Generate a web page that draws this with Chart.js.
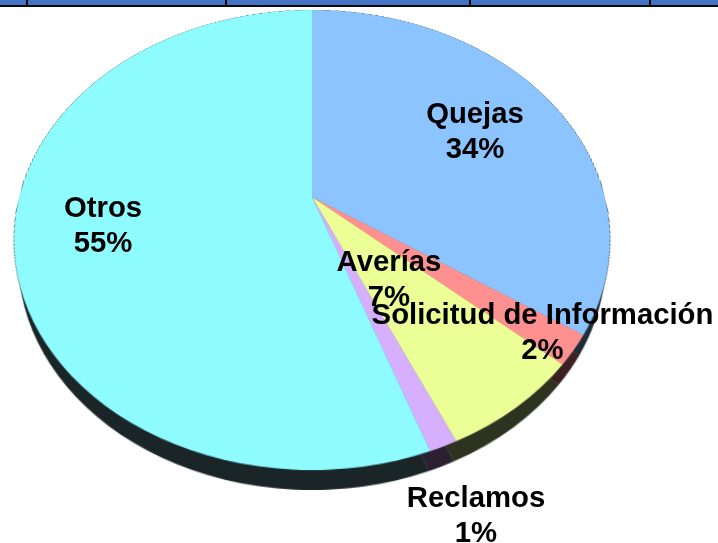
<!DOCTYPE html>
<html>
<head>
  <style>
    html, body { margin: 0; padding: 0; background: #fff; }
    #page { position: relative; width: 718px; height: 543px; overflow: hidden; }
    #page canvas { position: absolute !important; left: 0; top: 0; transform-origin: 0 0; }
    #topChart { filter: drop-shadow(0 0 0.7px #10151c) drop-shadow(0 0 0.4px #10151c); }
    .band { position: absolute; left: 0; top: 0; width: 718px; height: 5px; background: #4472c4; }
    .rule { position: absolute; left: 0; top: 5px; width: 718px; height: 2px; background: #0a0a0a; }
    .tick { position: absolute; top: 0; width: 2px; height: 6px; background: #0a0a0a; }
    .label {
        position: absolute;
        transform: translate(-50%, 0);
        text-align: center;
        white-space: nowrap;
        font: bold 29.3px/35px "Liberation Sans", Arial, sans-serif;
        color: #000;
    }
  </style>
</head>
<body>
  <div id="page">
    <div class="band"></div>
    <div class="rule"></div>
    <canvas id="rimChart" width="600" height="600"></canvas>
    <canvas id="topChart" width="600" height="600"></canvas>
  </div>

  <script src="https://cdn.jsdelivr.net/npm/chart.js"></script>
  <script type="text/javascript">
    const categories = ["Quejas", "Solicitud de Información", "Averías", "Reclamos", "Otros"];
    const shares = [34.4, 2.1, 6.8, 1.3, 55.4];

    const topColors = ["#8cc4ff", "#ff9090", "#ebff96", "#d6b0ff", "#8efcff"];
    const rimColors = ["#1f2c3c", "#3a2022", "#2e3320", "#2a2030", "#1a2528"];

    // where each label block sits on the page (centre x, top y)
    const labelSpots = [[475, 95], [542.5, 296], [389, 243], [476, 479], [103, 189]];
    const headerTicks = [27, 226, 470, 650];

    // circle -> tilted ellipse, the apex of the slices is off centre like the original
    const apexX = 312, apexY = 197;
    const k = -0.187, a = 222, half = 300;
    const topWidth = 292.8, rimWidth = 288.5;
    const rimDrop = 20;

    function tiltMatrix(b) {
        const m = [
            b / half, 0, 0, 0,
            apexX * k / half, (apexY * k + a) / half, 0, k / half,
            0, 0, 1, 0,
            apexX * (1 - k) - b, apexY * (1 - k) - a, 0, 1 - k
        ];
        return "matrix3d(" + m.join(",") + ")";
    }

    function makePie(id, colors) {
        return new Chart(document.getElementById(id), {
            type: 'pie',
            data: {
                labels: categories,
                datasets: [{ data: shares, backgroundColor: colors, borderWidth: 0 }]
            },
            options: {
                responsive: false,
                animation: false,
                devicePixelRatio: 2,
                layout: { padding: 0 },
                plugins: {
                    legend: { display: false },
                    tooltip: { enabled: false }
                }
            }
        });
    }

    makePie("rimChart", rimColors);
    makePie("topChart", topColors);

    document.getElementById("rimChart").style.transform = "translateY(" + rimDrop + "px) " + tiltMatrix(rimWidth);
    document.getElementById("topChart").style.transform = tiltMatrix(topWidth);

    const page = document.getElementById("page");

    headerTicks.forEach(function (x) {
        const t = document.createElement("div");
        t.className = "tick";
        t.style.left = (x - 1) + "px";
        page.appendChild(t);
    });

    categories.forEach(function (name, i) {
        const d = document.createElement("div");
        d.className = "label";
        d.style.left = labelSpots[i][0] + "px";
        d.style.top = labelSpots[i][1] + "px";
        d.innerHTML = name + "<br>" + Math.round(shares[i]) + "%";
        page.appendChild(d);
    });
  </script>
</body>
</html>
